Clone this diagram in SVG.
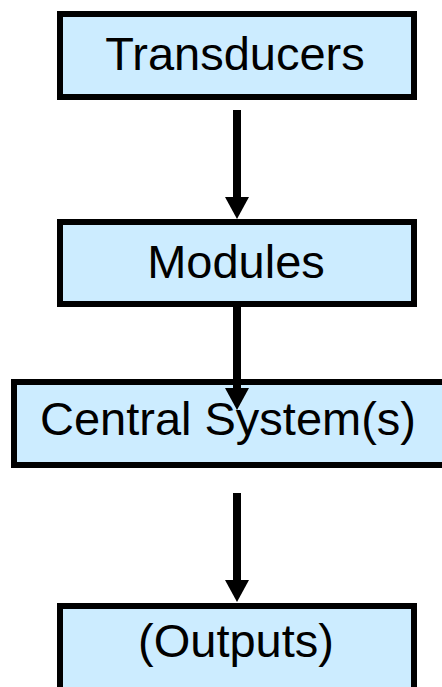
<svg xmlns="http://www.w3.org/2000/svg" width="442" height="687" viewBox="0 0 442 687">
  <defs>
    <style>
      .box { fill: #CCECFF; stroke: #000000; stroke-width: 6; }
      .lbl { font-family: "Liberation Sans", Arial, sans-serif; font-size: 47px; fill: #000000; text-anchor: middle; }
      .conn { stroke: #000000; stroke-width: 8; fill: none; marker-end: url(#head); }
    </style>
    <marker id="head" markerUnits="userSpaceOnUse" markerWidth="22" markerHeight="24" refX="1" refY="12" orient="auto" viewBox="0 0 22 24">
      <path d="M0,0 L22,12 L0,24 Z" fill="#000000"/>
    </marker>
  </defs>
  <rect width="442" height="687" fill="#FFFFFF"/>
  <g id="node-transducers">
    <rect class="box" x="60" y="14" width="354" height="83"/>
    <text class="lbl" x="235" y="70">Transducers</text>
  </g>
  <g id="node-modules">
    <rect class="box" x="60" y="222" width="354" height="82"/>
    <text class="lbl" x="236" y="278">Modules</text>
  </g>
  <g id="node-central">
    <rect class="box" x="14" y="382" width="432" height="83"/>
    <text class="lbl" x="228" y="435">Central System(s)</text>
  </g>
  <g id="node-outputs">
    <rect class="box" x="60" y="606" width="354" height="86"/>
    <text class="lbl" x="236" y="657">(Outputs)</text>
  </g>
  <g id="connectors">
    <line class="conn" x1="237" y1="110" x2="237" y2="198"/>
    <line class="conn" x1="237" y1="307" x2="237" y2="389"/>
    <line class="conn" x1="237" y1="493" x2="237" y2="581"/>
  </g>
</svg>
